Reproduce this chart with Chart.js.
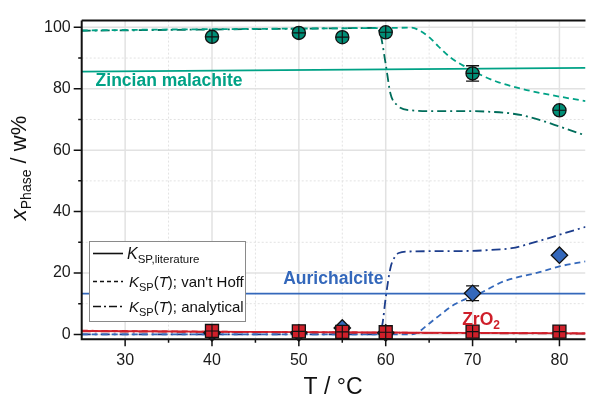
<!DOCTYPE html>
<html>
<head>
<meta charset="utf-8">
<script src="https://cdn.jsdelivr.net/npm/chart.js@4.4.0/dist/chart.umd.min.js"></script>
<style>
  html, body { margin: 0; padding: 0; background: #fff; }
  #wrap { width: 596px; height: 401px; }
</style>
</head>
<body>
<div id="wrap"><canvas id="phaseChart" width="596" height="401"></canvas></div>
<script>
// measured phase fractions (w%)
const tempMeasured = [40, 50, 55, 60, 70, 80];
const malachiteMeasured = [96.9, 98.2, 96.8, 98.4, 85.0, 73.0];
const malachiteError = [0, 0, 0, 0, 2.5, 0];
const aurichalciteMeasured = [0.5, 0.5, 2.1, 0.5, 13.4, 25.8];
const aurichalciteError = [0, 0, 0, 0, 2.4, 0];
const zro2Measured = [1.1, 1.0, 0.8, 0.7, 0.9, 0.9];

// K_SP literature (constant)
const litT = [25, 83];
const malachiteLit = [85.6, 86.8];
const aurichalciteLit = [13.3, 13.3];
const zro2Lit = [1.1, 0.3];

// K_SP(T) van't Hoff
const malachiteVhT = [25, 35, 45, 55, 60, 63.0, 64.0, 65.0, 66.0, 67.4, 69.2, 71.1, 73.0, 75.6, 78.2, 81.3, 83];
const malachiteVh = [99.0, 99.3, 99.5, 99.7, 99.8, 99.9, 98.8, 96.8, 94.0, 90.3, 87.1, 84.3, 82.1, 80.0, 78.4, 76.8, 76.0];
const aurichalciteVhT = [25, 40, 55, 62.8, 63.8, 64.6, 66.2, 68.0, 70.7, 73.7, 77.5, 80.1, 83];
const aurichalciteVh = [0, 0, 0, 0, 0.8, 2.6, 6.2, 9.9, 13.2, 17.4, 20.1, 22.2, 23.8];
const zro2VhT = [25, 45, 65, 83];
const zro2Vh = [1.2, 0.8, 0.5, 0.35];

// K_SP(T) analytical
const malachiteAnT = [25, 40, 55, 59.0, 59.4, 60.0, 60.55, 61.3, 62.8, 66, 70, 72, 74, 76, 78, 80, 83];
const malachiteAn = [98.9, 99.3, 99.7, 99.8, 97.7, 88.0, 78.4, 74.7, 73.0, 72.7, 72.7, 72.5, 72.1, 71.2, 69.6, 67.7, 64.8];
const aurichalciteAnT = [25, 40, 55, 59.0, 59.6, 60.0, 60.55, 61.0, 61.5, 62.8, 66, 70, 72, 74.5, 77.5, 80.5, 83];
const aurichalciteAn = [0, 0, 0, 0, 3, 12, 21.7, 25, 26.5, 27, 27.1, 27.2, 27.5, 28.1, 30.3, 32.9, 35];
const zro2AnT = [25, 83];
const zro2An = [1.0, 0.25];

// axis ticks
const xMajorTicks = [30, 40, 50, 60, 70, 80];
const xMinorTicks = [35, 45, 55, 65, 75];
const yMajorTicks = [0, 20, 40, 60, 80, 100];
const yMinorTicks = [10, 30, 50, 70, 90];

const TEAL = '#00a286';
const TEAL_DARK = '#006d5b';
const BLUE = '#3468bb';
const BLUE_DARK = '#1c3d8c';
const RED = '#cf1f2a';
const FONT = '"Liberation Sans", Arial, sans-serif';

function pts(xs, ys) {
    return xs.map((t, i) => ({ x: t, y: ys[i] }));
}

function curve(xs, ys, color, dash, order) {
    return {
        data: pts(xs, ys),
        borderColor: color,
        borderWidth: 1.8,
        borderDash: dash,
        pointRadius: 0,
        fill: false,
        cubicInterpolationMode: 'monotone',
        order: order
    };
}

function markers(ys, style, fill, radius, order, errors) {
    return {
        data: pts(tempMeasured, ys),
        showLine: false,
        pointStyle: style,
        pointRadius: radius,
        pointBackgroundColor: fill,
        pointBorderColor: '#111',
        pointBorderWidth: 1.3,
        clip: false,
        order: order,
        errorBars: errors
    };
}

function crosses(ys, radius) {
    return {
        data: pts(tempMeasured, ys),
        showLine: false,
        pointStyle: 'cross',
        pointRadius: radius,
        pointBorderColor: '#111',
        pointBorderWidth: 1.2,
        clip: false,
        order: 0
    };
}

// draws text made of several runs (font / vertical shift)
function drawRuns(ctx, x, y, runs, color) {
    ctx.fillStyle = color;
    ctx.textBaseline = 'alphabetic';
    ctx.textAlign = 'left';
    runs.forEach(r => {
        ctx.font = r.font;
        ctx.fillText(r.text, x, y + (r.dy || 0));
        x += ctx.measureText(r.text).width;
    });
}

function runsWidth(ctx, runs) {
    let w = 0;
    runs.forEach(r => { ctx.font = r.font; w += ctx.measureText(r.text).width; });
    return w;
}

const decor = {
    id: 'decor',
    beforeDatasetsDraw(chart) {
        const { ctx, chartArea: a, scales: { x, y } } = chart;
        ctx.save();
        ctx.beginPath();
        ctx.rect(a.left, a.top, a.right - a.left, a.bottom - a.top);
        ctx.clip();
        ctx.strokeStyle = '#e2e2e2';
        ctx.lineWidth = 1.5;
        ctx.setLineDash([]);
        xMajorTicks.forEach(v => {
            const px = x.getPixelForValue(v);
            ctx.beginPath(); ctx.moveTo(px, a.top); ctx.lineTo(px, a.bottom); ctx.stroke();
        });
        yMajorTicks.forEach(v => {
            const py = y.getPixelForValue(v);
            ctx.beginPath(); ctx.moveTo(a.left, py); ctx.lineTo(a.right, py); ctx.stroke();
        });
        ctx.lineWidth = 1;
        ctx.setLineDash([2, 2]);
        xMinorTicks.forEach(v => {
            const px = x.getPixelForValue(v);
            ctx.beginPath(); ctx.moveTo(px, a.top); ctx.lineTo(px, a.bottom); ctx.stroke();
        });
        yMinorTicks.forEach(v => {
            const py = y.getPixelForValue(v);
            ctx.beginPath(); ctx.moveTo(a.left, py); ctx.lineTo(a.right, py); ctx.stroke();
        });
        ctx.restore();
    },
    beforeDatasetDraw(chart, args) {
        const ds = chart.data.datasets[args.index];
        if (!ds.errorBars) return;
        const { ctx, scales: { x, y } } = chart;
        ctx.save();
        ctx.strokeStyle = '#111';
        ctx.lineWidth = 1.3;
        ds.data.forEach((p, i) => {
            const e = ds.errorBars[i];
            if (!e) return;
            const px = x.getPixelForValue(p.x);
            const top = y.getPixelForValue(p.y + e);
            const bot = y.getPixelForValue(p.y - e);
            ctx.beginPath();
            ctx.moveTo(px, top); ctx.lineTo(px, bot);
            ctx.moveTo(px - 6.5, top); ctx.lineTo(px + 6.5, top);
            ctx.moveTo(px - 6.5, bot); ctx.lineTo(px + 6.5, bot);
            ctx.stroke();
        });
        ctx.restore();
    },
    afterDatasetsDraw(chart) {
        const { ctx, chartArea: a, scales: { x, y } } = chart;
        ctx.save();
        // axes frame
        ctx.strokeStyle = '#111';
        ctx.lineWidth = 2;
        ctx.beginPath();
        ctx.moveTo(a.left, a.top); ctx.lineTo(a.right, a.top);
        ctx.moveTo(a.left, a.top); ctx.lineTo(a.left, a.bottom); ctx.lineTo(a.right, a.bottom);
        ctx.stroke();
        ctx.lineWidth = 1.5;
        ctx.beginPath();
        xMajorTicks.forEach(v => { const px = x.getPixelForValue(v); ctx.moveTo(px, a.bottom); ctx.lineTo(px, a.bottom + 7); });
        xMinorTicks.forEach(v => { const px = x.getPixelForValue(v); ctx.moveTo(px, a.bottom); ctx.lineTo(px, a.bottom + 3.5); });
        yMajorTicks.forEach(v => { const py = y.getPixelForValue(v); ctx.moveTo(a.left, py); ctx.lineTo(a.left - 8, py); });
        yMinorTicks.forEach(v => { const py = y.getPixelForValue(v); ctx.moveTo(a.left, py); ctx.lineTo(a.left - 3.5, py); });
        ctx.stroke();

        // phase labels
        const bold = 'bold 17.5px ' + FONT;
        drawRuns(ctx, x.getPixelForValue(26.6), y.getPixelForValue(80.9), [{ text: 'Zincian malachite', font: bold }], TEAL);
        drawRuns(ctx, x.getPixelForValue(48.2), y.getPixelForValue(16.4), [{ text: 'Aurichalcite', font: bold }], BLUE);
        drawRuns(ctx, x.getPixelForValue(68.8), y.getPixelForValue(3.0), [
            { text: 'ZrO', font: bold },
            { text: '2', font: 'bold 12px ' + FONT, dy: 4 }
        ], RED);

        // axis titles
        const xt = [{ text: 'T / °C', font: '23px ' + FONT }];
        drawRuns(ctx, 333 - runsWidth(ctx, xt) / 2, 394, xt, '#111');

        const yt = [
            { text: 'x', font: 'italic 22px ' + FONT },
            { text: 'Phase', font: '14px ' + FONT, dy: 5 },
            { text: ' / w%', font: '22px ' + FONT }
        ];
        ctx.save();
        ctx.translate(26, 168);
        ctx.rotate(-Math.PI / 2);
        drawRuns(ctx, -runsWidth(ctx, yt) / 2, 0, yt, '#111');
        ctx.restore();
        ctx.restore();
    },
    afterDraw(chart) {
        const { ctx } = chart;
        ctx.save();
        // legend box
        const L = 89, T = 241, W = 156, H = 80;
        ctx.fillStyle = '#fff';
        ctx.fillRect(L, T, W, H);
        ctx.strokeStyle = '#8a8a8a';
        ctx.lineWidth = 1;
        ctx.setLineDash([]);
        ctx.strokeRect(L + 0.5, T + 0.5, W, H);

        const rows = [
            { y: 253.5, dash: [], runs: [
                { text: 'K', font: 'italic 16px ' + FONT },
                { text: 'SP,literature', font: '11.5px ' + FONT, dy: 4 }
            ] },
            { y: 281.5, dash: [4, 3], runs: [
                { text: 'K', font: 'italic 15px ' + FONT },
                { text: 'SP', font: '11px ' + FONT, dy: 4 },
                { text: '(', font: '15px ' + FONT },
                { text: 'T', font: 'italic 15px ' + FONT },
                { text: "); van't Hoff", font: '15px ' + FONT }
            ] },
            { y: 306.5, dash: [8, 3, 2, 3], runs: [
                { text: 'K', font: 'italic 15px ' + FONT },
                { text: 'SP', font: '11px ' + FONT, dy: 4 },
                { text: '(', font: '15px ' + FONT },
                { text: 'T', font: 'italic 15px ' + FONT },
                { text: '); analytical', font: '15px ' + FONT }
            ] }
        ];
        rows.forEach((r, i) => {
            ctx.strokeStyle = '#111';
            ctx.lineWidth = 1.6;
            ctx.setLineDash(r.dash);
            ctx.beginPath();
            ctx.moveTo(93, r.y); ctx.lineTo(123, r.y);
            ctx.stroke();
            drawRuns(ctx, i === 0 ? 127 : 129, r.y + 5.5, r.runs, '#111');
        });
        ctx.restore();
    }
};

const ctx = document.getElementById('phaseChart').getContext('2d');

new Chart(ctx, {
    type: 'line',
    data: {
        datasets: [
            // markers (lower order = drawn on top)
            crosses(zro2Measured, 6),
            crosses(malachiteMeasured, 6.5),
            markers(zro2Measured, 'rect', RED, 9.2, 1, null),
            markers(aurichalciteMeasured, 'rectRot', BLUE, 8.2, 2, aurichalciteError),
            markers(malachiteMeasured, 'circle', '#008f77', 6.6, 3, malachiteError),
            // curves
            curve(litT, zro2Lit, RED, [], 10),
            curve(zro2VhT, zro2Vh, RED, [6, 4], 11),
            curve(zro2AnT, zro2An, '#a81a22', [9, 4, 2, 4], 12),
            curve(litT, aurichalciteLit, BLUE, [], 13),
            curve(aurichalciteVhT, aurichalciteVh, BLUE, [6, 4], 14),
            curve(aurichalciteAnT, aurichalciteAn, BLUE_DARK, [9, 4, 2, 4], 15),
            curve(litT, malachiteLit, TEAL, [], 16),
            curve(malachiteVhT, malachiteVh, TEAL, [6, 4], 17),
            curve(malachiteAnT, malachiteAn, TEAL_DARK, [9, 4, 2, 4], 18)
        ]
    },
    options: {
        responsive: false,
        animation: false,
        devicePixelRatio: 1,
        layout: { padding: { top: 15.7, right: 0, left: 0, bottom: 0 } },
        plugins: {
            legend: { display: false },
            tooltip: { enabled: false }
        },
        scales: {
            x: {
                type: 'linear',
                min: 25,
                max: 83,
                grid: { display: false, drawTicks: false },
                border: { display: false },
                afterBuildTicks: s => { s.ticks = xMajorTicks.map(v => ({ value: v })); },
                afterFit: s => { s.height = 61.7; },
                ticks: {
                    padding: 12,
                    color: '#1a1a1a',
                    font: { family: FONT, size: 16 }
                }
            },
            y: {
                type: 'linear',
                min: -1.6,
                max: 102.2,
                grid: { display: false, drawTicks: false },
                border: { display: false },
                afterBuildTicks: s => { s.ticks = yMajorTicks.map(v => ({ value: v })); },
                afterFit: s => { s.width = 81.7; },
                ticks: {
                    padding: 11,
                    color: '#1a1a1a',
                    font: { family: FONT, size: 16 }
                }
            }
        }
    },
    plugins: [decor]
});
</script>
</body>
</html>
